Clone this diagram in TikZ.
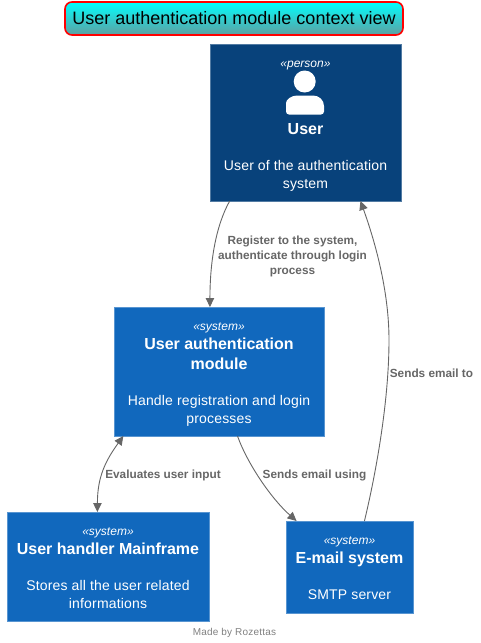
\documentclass[tikz,border=0pt]{standalone}
\usepackage{fontspec}
\setmainfont{Liberation Sans}
\newfontfamily\descfont[LetterSpace=1.2]{Liberation Sans}
\newfontfamily\footerfont[LetterSpace=2.2]{Liberation Sans}
\usepackage{tikz}
\usetikzlibrary{arrows.meta,positioning}
\definecolor{personblue}{HTML}{08427B}
\definecolor{systemblue}{HTML}{1168BD}
\definecolor{edgegray}{HTML}{666666}
\definecolor{titlecyan}{HTML}{00FFFF}
\definecolor{titleteal}{HTML}{5F9EA0}
\newcommand{\stereotype}[2][0pt]{\rule{0pt}{\dimexpr 9pt+#1\relax}{\rmfamily\fontsize{12}{14}\selectfont\itshape «#2»}}
\newcommand{\boxname}[1]{{\rmfamily\fontsize{16}{20}\selectfont\bfseries #1}}

\begin{document}
\begin{tikzpicture}[
  x=1pt, y=-1pt,
  >={Triangle[length=9pt,width=8.5pt]},
  box/.style={draw=#1!70!white, fill=#1, line width=0.8pt, text=white, align=center, inner sep=0pt, outer sep=0pt, font=\descfont\fontsize{14}{18}\selectfont},
  arrow/.style={->, draw=edgegray, line width=0.9pt},
  edgelabel/.style={text=edgegray, align=center, inner sep=0pt, font=\fontsize{11.8}{15}\selectfont\bfseries},
  titlebox/.style={draw=red, line width=1.6pt, rounded corners=7pt, top color=titlecyan, bottom color=titleteal, minimum width=338pt, minimum height=33pt, inner sep=0pt, font=\fontsize{18}{22}\selectfont}
]
\useasboundingbox (0,0) rectangle (480,643);

\node[titlebox] (title) at (234,18.5) {\raisebox{-1pt}{User authentication module context view}};

\node[box=personblue, minimum width=191pt, minimum height=157pt] (user) at (305.5,122.5) {\stereotype[4pt]{person}\\[49pt]\boxname{User}\\[18pt]User of the authentication\\system};
\fill[white] ([xshift=-0.8pt,yshift=-37.5pt]user.north) circle (11pt);
\fill[white] (286,106) .. controls (286,100) and (291,95.5) .. (297,95.5) -- (313,95.5) .. controls (319,95.5) and (324,100) .. (324,106) [rounded corners=3pt] -- (324,114.5) -- (286,114.5) -- cycle;

\node[box=systemblue, minimum width=210pt, minimum height=129pt] (auth) at (219,371.5) {\stereotype[4pt]{system}\\[1pt]\boxname{User authentication}\\[2pt]\boxname{module}\\[18pt]Handle registration and login\\processes};
\node[box=systemblue, minimum width=202pt, minimum height=109pt] (mainframe) at (108,566.5) {\stereotype[2pt]{system}\\[1pt]\boxname{User handler Mainframe}\\[18pt]Stores all the user related\\informations};
\node[box=systemblue, minimum width=127pt, minimum height=92pt] (email) at (349.5,567) {\stereotype[1pt]{system}\\[1pt]\boxname{E-mail system}\\[18pt]SMTP server};

\coordinate (bendpoint) at (389,340);

\draw[arrow] (user.226.9) .. controls +(-14,25) and +(0,-45) .. (auth.98.8);
\draw[arrow, <->] (auth.214.5) .. controls +(-18,25) and +(0,-35) .. (mainframe.101.9);
\draw[arrow] (auth.-74) .. controls +(10,28) and +(-25,-22) .. (email.139.3);
\draw[arrow] (email.72.5) .. controls +(12,-50) and +(0,60) .. (bendpoint) .. controls +(0,-50) and +(14,39) .. (user.-55.7);

\node[edgelabel] (registerlabel) at (292.5,256) {Register to the system,\\authenticate through login\\process};
\node[edgelabel] (evaluateslabel) at (163,475.5) {Evaluates user input};
\node[edgelabel] (usinglabel) at (314.5,475.5) {Sends email using};
\node[edgelabel] (sendslabel) at (431.5,373.5) {Sends email to};

\node[text=gray, inner sep=0pt, font=\footerfont\fontsize{10}{12}\selectfont] (footer) at (234.5,633) {Made by Rozettas};
\end{tikzpicture}
\end{document}
